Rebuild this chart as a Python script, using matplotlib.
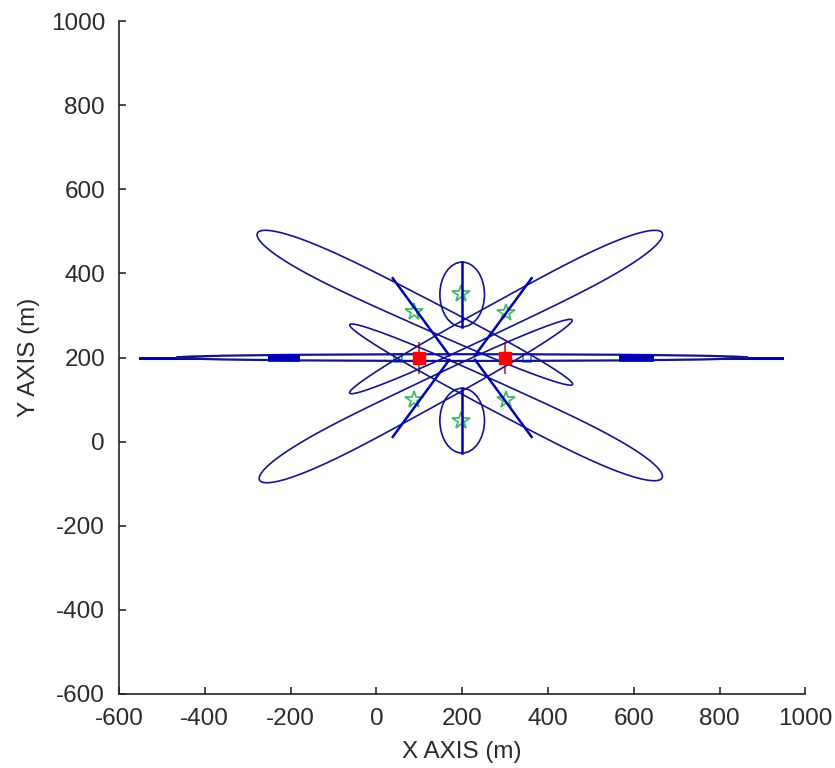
import numpy as np
import matplotlib.pyplot as plt
from matplotlib.patches import Ellipse, Polygon

plt.rcParams['font.family'] = ['Liberation Sans', 'DejaVu Sans']
plt.rcParams['axes.unicode_minus'] = False

# sensor positions (m)
sensor_x = [100, 300]
sensor_y = [200, 200]

# target positions (m)
target_x = [88, 198, 302, 88, 198, 302]
target_y = [308, 352, 306, 98, 50, 98]
# targets on the baseline
line_tx = [50, 350]
line_ty = [200, 200]

# long error regions of the corner targets:
# centre, half length, half width at outer / inner tip, direction of outer tip (deg)
lobe_x = [90, 302, 92, 302]
lobe_y = [316, 306, 99, 96]
lobe_a = [409, 411, 411, 407]
lobe_b_out = [46, 46, 46, 46]
lobe_b_in = [22, 22, 22, 22]
lobe_dir = [153.9, 27.6, 207.6, 333.4]

# error ellipses of the targets above and below the sensors
ell_x = [200, 200]
ell_y = [350, 50]
ell_w = [104, 104]
ell_h = [154, 154]

# collapsed ellipses, drawn along their major axis
axis_x = [104, 296, 104, 296, 200, 200]
axis_y = [297, 297, 103, 103, 350, 50]
axis_len = [226, 226, 226, 226, 154, 154]
axis_ang = [-54.3, 54.3, 54.3, -54.3, 90, 90]

# estimates along the sensor baseline
base_y = 200
base_line = [-551, 945]
band_x, band_w, band_h = 200, 1332, 16
heavy_x0 = [-253, 566]
heavy_x1 = [-179, 647]

navy = '#14148c'
blue = '#0000b4'


def lobe_outline(cx, cy, a, b_out, b_in, direction):
    # blunt egg: wider toward the outer tip
    t = np.linspace(0, 2 * np.pi, 400)
    s = np.cos(t)
    side = np.sign(np.sin(t))
    b = 0.5 * (b_out + b_in) + 0.5 * (b_out - b_in) * s
    w = b * np.sqrt(np.clip(1 - np.abs(s) ** 3, 0, None)) * side
    d = np.radians(direction)
    ux, uy = np.cos(d), np.sin(d)
    px = cx + a * s * ux - w * uy
    py = cy + a * s * uy + w * ux
    return np.column_stack([px, py])


fig = plt.figure(figsize=(8.35, 7.68), dpi=100)
ax = fig.add_axes([0.1425, 0.0964, 0.822, 0.876])

# sensors: cross underneath, square on top
ax.plot(sensor_x, sensor_y, '+', color='#c8502a', markersize=23, mew=1.5, zorder=1)

ax.plot(base_line, [base_y, base_y], color=blue, lw=2.2, zorder=2)
ax.add_patch(Ellipse((band_x, base_y), band_w, band_h, facecolor='white',
                     edgecolor='none', zorder=3))
ax.plot(line_tx, line_ty, 's', color='#3d86d8', markerfacecolor='none',
        markersize=6, mew=1.2, zorder=3.2)
ax.add_patch(Ellipse((band_x, base_y), band_w, band_h, fill=False,
                     edgecolor=navy, lw=1.6, zorder=3.5))
for x0, x1 in zip(heavy_x0, heavy_x1):
    ax.plot([x0, x1], [base_y, base_y], color=blue, lw=5.5, solid_capstyle='butt', zorder=4)

ax.plot(target_x, target_y, '*', color='#44bb66', markerfacecolor='none',
        markersize=13, mew=1.3, zorder=4.5)

for cx, cy, a, bo, bi, dr in zip(lobe_x, lobe_y, lobe_a, lobe_b_out, lobe_b_in, lobe_dir):
    ax.add_patch(Polygon(lobe_outline(cx, cy, a, bo, bi, dr), closed=True, fill=False,
                         edgecolor=navy, lw=1.2, zorder=5))

for cx, cy, w, h in zip(ell_x, ell_y, ell_w, ell_h):
    ax.add_patch(Ellipse((cx, cy), w, h, fill=False, edgecolor=navy, lw=1.2, zorder=5))

for cx, cy, L, a in zip(axis_x, axis_y, axis_len, axis_ang):
    dx = 0.5 * L * np.cos(np.radians(a))
    dy = 0.5 * L * np.sin(np.radians(a))
    ax.plot([cx - dx, cx + dx], [cy - dy, cy + dy], color=blue, lw=1.8, zorder=6)

ax.plot(sensor_x, sensor_y, 's', color='red', markersize=9, zorder=10)

ax.set_xlim(-600, 1000)
ax.set_ylim(-600, 1000)
ax.set_xticks(np.arange(-600, 1001, 200))
ax.set_yticks(np.arange(-600, 1001, 200))
ax.spines['top'].set_visible(False)
ax.spines['right'].set_visible(False)
for s in ['left', 'bottom']:
    ax.spines[s].set_linewidth(1.2)
    ax.spines[s].set_color('#222222')
ax.tick_params(direction='in', length=5, width=1.2, labelsize=17.5,
               colors='#2a2a2a', pad=10)
ax.set_xlabel('X AXIS (m)', fontsize=17.5, color='#2a2a2a', labelpad=8)
ax.set_ylabel('Y AXIS (m)', fontsize=17.5, color='#2a2a2a', labelpad=8)

fig.savefig('out.png', dpi=100)
